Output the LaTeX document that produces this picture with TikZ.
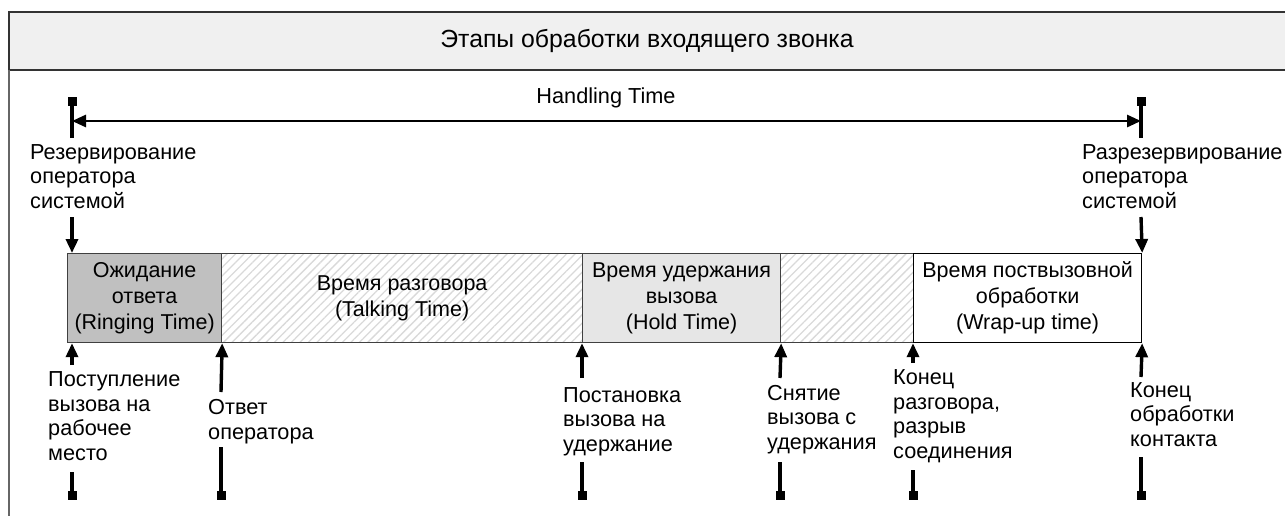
\documentclass[tikz,border=0pt]{standalone}
\usepackage{fontspec}
\setmainfont{Liberation Sans}
\usetikzlibrary{arrows.meta,patterns.meta}
\definecolor{hdr}{HTML}{F0F0F0}
\definecolor{ringc}{HTML}{C0C0C0}
\definecolor{holdc}{HTML}{E6E6E6}
\definecolor{framec}{HTML}{333333}
\begin{document}
\begin{tikzpicture}[x=1pt,y=-1pt,
  lbl/.style={anchor=base west, align=left, inner sep=0pt, font=\fontsize{21.7}{24.5}\selectfont},
  seg/.style={draw=black!75, line width=1.2pt, minimum height=89pt, anchor=north west,
              inner sep=0pt, align=center, font=\fontsize{21.5}{26}\selectfont},
  conn/.style={line width=3.4pt},
  uparr/.style={conn, -{Triangle[length=14pt,width=12pt]}},
  sqend/.style={conn, -{Square[length=9pt,width=9pt]}},
  hatch/.style={pattern={Lines[angle=45,distance=6pt,line width=1.3pt]}, pattern color=black!15}]
\useasboundingbox (0,0) rectangle (1285,515);
% frame and header
\fill[hdr] (9,12) rectangle (1290,70);
\draw[framec, line width=1.5pt] (1290,12) -- (9,12) -- (9,70) -- (1290,70);
\draw[black!60, line width=1.2pt] (9,70) -- (9,520);
\node[font=\fontsize{24.8}{28}\selectfont] (title) at (647,41) {Этапы обработки входящего звонка};
% bar segments
\node[seg, fill=ringc, minimum width=154pt] (ring) at (67,253) {Ожидание\\ответа\\(Ringing Time)};
\node[seg, hatch, minimum width=361pt] (talk) at (221,253) {Время разговора\\(Talking Time)};
\node[seg, fill=holdc, minimum width=198pt] (hold) at (582,253) {Время удержания\\вызова\\(Hold Time)};
\node[seg, hatch, minimum width=133pt] (gap) at (780,253) {};
\node[seg, fill=white, draw=black, minimum width=228pt] (wrap) at (913,253) {Время поствызовной\\обработки\\(Wrap-up time)};
% handling time
\coordinate (ht0) at (72,97);
\coordinate (ht0b) at (72,138);
\coordinate (ht1) at (1141,97);
\coordinate (ht1b) at (1141,138);
\coordinate (hl) at (72,121);
\coordinate (hr) at (1141,121);
\draw[sqend] (ht0b) -- (ht0);
\draw[sqend] (ht1b) -- (ht1);
\draw[line width=2.8pt, {Triangle[length=14pt,width=12pt]}-{Triangle[length=14pt,width=12pt]}] (hl) -- (hr);
\node[font=\fontsize{21.7}{24}\selectfont] (ht) at (606,98) {Handling Time};
% top labels (anchor at baseline of last line)
\node[lbl] (rez) at (30,208) {Резервирование\\оператора\\системой};
\node[lbl] (razrez) at (1082,208) {Разрезервирование\\оператора\\системой};
\coordinate (rezA) at (72,217);
\coordinate (razA) at (1141,217);
\draw[uparr] (rezA) -- (ring.north west -| rezA);
\draw[uparr] (razA) -- (wrap.north east);
% bottom labels
\node[lbl] (l1) at (48,460) {Поступление\\вызова на\\рабочее\\место};
\node[lbl] (l2) at (208,439) {Ответ\\оператора};
\node[lbl] (l3) at (563,451) {Постановка\\вызова на\\удержание};
\node[lbl] (l4) at (767,449) {Снятие\\вызова с\\удержания};
\node[lbl] (l5) at (893,458) {Конец\\разговора,\\разрыв\\соединения};
\node[lbl] (l6) at (1130,446) {Конец\\обработки\\контакта};
% arrows up to the bar
\coordinate (a1) at (72,365);  \coordinate (b1) at (72,472);  \coordinate (s1) at (72,500);
\coordinate (a2) at (221,392); \coordinate (b2) at (221,447); \coordinate (s2) at (221,500);
\coordinate (a3) at (582,378); \coordinate (b3) at (582,462); \coordinate (s3) at (582,500);
\coordinate (a4) at (780,378); \coordinate (b4) at (780,462); \coordinate (s4) at (780,500);
\coordinate (a5) at (913,363); \coordinate (b5) at (913,470); \coordinate (s5) at (913,500);
\coordinate (a6) at (1141,377);\coordinate (b6) at (1141,457);\coordinate (s6) at (1141,500);
\draw[uparr] (a1) -- (ring.south west -| a1);
\draw[uparr] (a2) -- (ring.south east);
\draw[uparr] (a3) -- (hold.south west);
\draw[uparr] (a4) -- (hold.south east);
\draw[uparr] (a5) -- (wrap.south west);
\draw[uparr] (a6) -- (wrap.south east);
\draw[sqend] (b1) -- (s1);
\draw[sqend] (b2) -- (s2);
\draw[sqend] (b3) -- (s3);
\draw[sqend] (b4) -- (s4);
\draw[sqend] (b5) -- (s5);
\draw[sqend] (b6) -- (s6);
\end{tikzpicture}
\end{document}
